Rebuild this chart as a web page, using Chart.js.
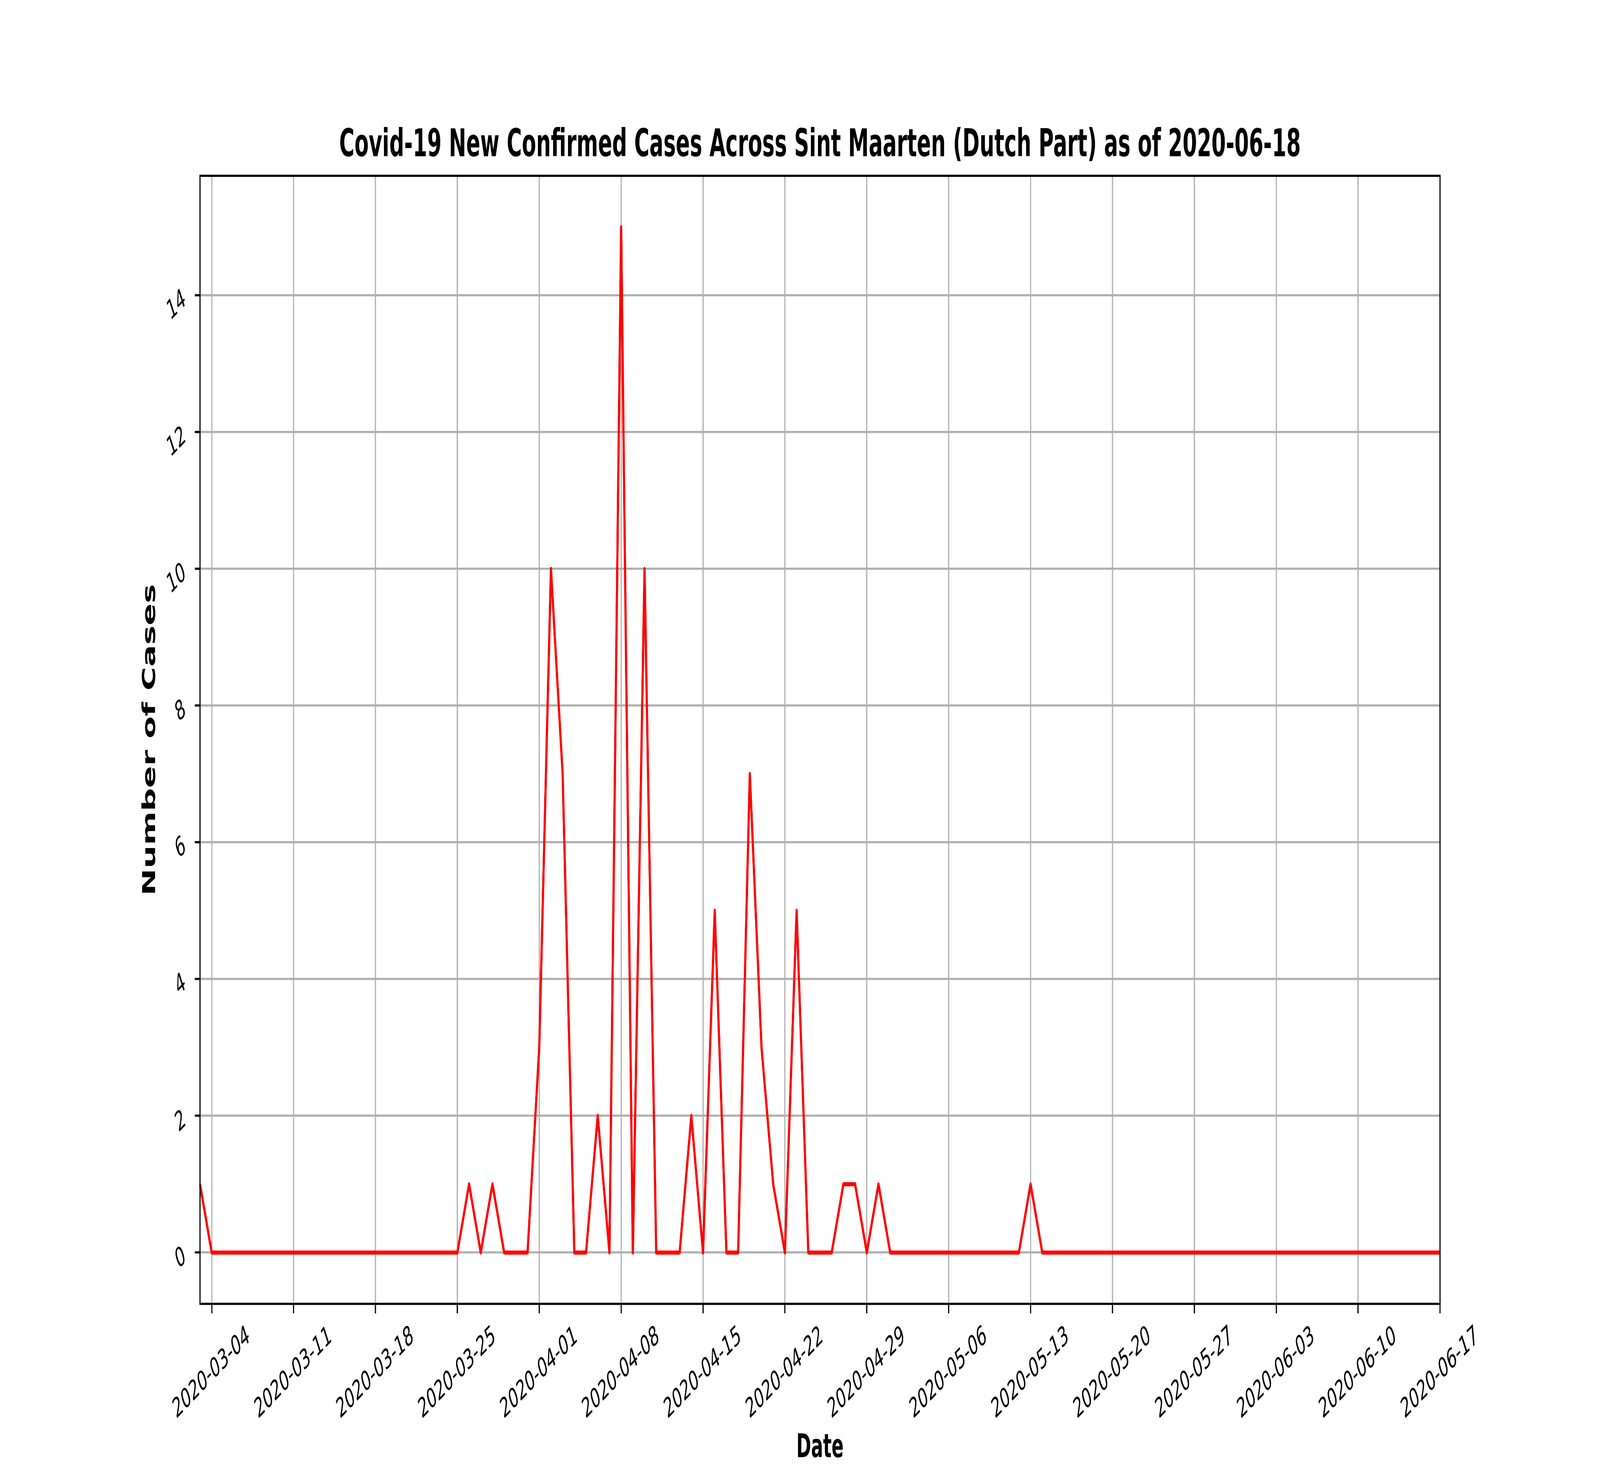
<!DOCTYPE html>
<html>
<head>
<meta charset="utf-8">
<script src="https://cdn.jsdelivr.net/npm/chart.js@4.4.0/dist/chart.umd.min.js"></script>
<style>
  html, body { margin: 0; padding: 0; background: #fff; overflow: hidden; }
  canvas { display: block; }
</style>
</head>
<body>
<canvas id="chart" width="7500" height="3750"></canvas>
<script>
// daily new confirmed cases, 2020-03-03 .. 2020-06-17
const startDate = '2020-03-03';
const newCases = [
  1, 0, 0, 0, 0, 0, 0,        // 03-03 .. 03-09
  0, 0, 0, 0, 0, 0, 0,        // 03-10 .. 03-16
  0, 0, 0, 0, 0, 0, 0,        // 03-17 .. 03-23
  0, 0, 1, 0, 1, 0, 0,        // 03-24 .. 03-30
  0, 3, 10, 7, 0, 0, 2,       // 03-31 .. 04-06
  0, 15, 0, 10, 0, 0, 0,      // 04-07 .. 04-13
  2, 0, 5, 0, 0, 7, 3,        // 04-14 .. 04-20
  1, 0, 5, 0, 0, 0, 1,        // 04-21 .. 04-27
  1, 0, 1, 0, 0, 0, 0,        // 04-28 .. 05-04
  0, 0, 0, 0, 0, 0, 0,        // 05-05 .. 05-11
  0, 1, 0, 0, 0, 0, 0,        // 05-12 .. 05-18
  0, 0, 0, 0, 0, 0, 0,        // 05-19 .. 05-25
  0, 0, 0, 0, 0, 0, 0,        // 05-26 .. 06-01
  0, 0, 0, 0, 0, 0, 0,        // 06-02 .. 06-08
  0, 0, 0, 0, 0, 0, 0,        // 06-09 .. 06-15
  0, 0                        // 06-16 .. 06-17
];
const xTickLabels = [
  '2020-03-04', '2020-03-11', '2020-03-18', '2020-03-25', '2020-04-01',
  '2020-04-08', '2020-04-15', '2020-04-22', '2020-04-29', '2020-05-06',
  '2020-05-13', '2020-05-20', '2020-05-27', '2020-06-03', '2020-06-10',
  '2020-06-17'
];
const yTicks = [0, 2, 4, 6, 8, 10, 12, 14];

const dates = [];
for (let i = 0; i < newCases.length; i++) {
  const d = new Date(Date.parse(startDate + 'T00:00:00Z') + i * 86400000);
  dates.push(d.toISOString().slice(0, 10));
}

const PT = 500 / 72;           // figure was saved at 500 dpi
const FONT = 'DejaVu Sans';

// axes box (matplotlib default subplot params)
const W = 7500, H = 3750;
const AX_LEFT = 0.125 * W, AX_RIGHT = 0.9 * W;
const AX_TOP = 0.12 * H, AX_BOTTOM = 0.89 * H;

// the drawing is 7500x3750; show it over the whole window
const canvasEl = document.getElementById('chart');
canvasEl.style.width = (window.innerWidth || W) + 'px';
canvasEl.style.height = (window.innerHeight || H) + 'px';

Chart.defaults.color = '#000';
Chart.defaults.font.family = FONT;

const framePlugin = {
  id: 'frame',
  afterDatasetsDraw(chart) {
    const { ctx, chartArea: a } = chart;
    ctx.save();
    ctx.strokeStyle = '#000';
    ctx.lineWidth = 0.8 * PT;
    ctx.strokeRect(a.left, a.top, a.right - a.left, a.bottom - a.top);
    ctx.restore();
  }
};

new Chart(canvasEl.getContext('2d'), {
  type: 'line',
  data: {
    labels: dates,
    datasets: [{
      data: newCases,
      borderColor: '#ff0000',
      borderWidth: 1.5 * PT,
      borderJoinStyle: 'round',
      pointRadius: 0,
      tension: 0,
      fill: false
    }]
  },
  options: {
    responsive: false,
    animation: false,
    devicePixelRatio: 1,
    layout: { padding: { left: 0, right: W - AX_RIGHT, top: 0, bottom: 0 } },
    plugins: {
      legend: { display: false },
      tooltip: { enabled: false },
      title: {
        display: true,
        fullSize: false,   // centre it over the axes, like matplotlib
        text: 'Covid-19 New Confirmed Cases Across Sint Maarten (Dutch Part) as of 2020-06-18',
        font: { family: FONT, size: 14 * PT, weight: 'bold', lineHeight: 1 },
        color: '#000',
        padding: { top: 326, bottom: AX_TOP - 326 - 14 * PT }
      }
    },
    scales: {
      x: {
        type: 'category',
        offset: false,
        afterBuildTicks(scale) {
          scale.ticks = scale.ticks.filter(t => xTickLabels.includes(dates[t.value]));
        },
        afterFit(scale) { scale.height = H - AX_BOTTOM; },
        ticks: {
          autoSkip: false,
          minRotation: 30,
          maxRotation: 30,
          padding: 17,
          labelOffset: 174,
          font: { family: FONT, size: 10 * PT },
          callback(value) { return dates[value]; }
        },
        grid: {
          color: '#b0b0b0',
          lineWidth: 0.8 * PT,
          tickColor: '#000',
          tickWidth: 0.8 * PT,
          tickLength: 3.5 * PT
        },
        border: { display: false },
        title: {
          display: true,
          text: 'Date',
          font: { family: FONT, size: 12 * PT, weight: 'bold', lineHeight: 1 },
          padding: { top: 0, bottom: 0 }
        }
      },
      y: {
        type: 'linear',
        min: -0.75,
        max: 15.75,
        afterBuildTicks(scale) {
          scale.ticks = yTicks.map(v => ({ value: v }));
        },
        afterFit(scale) { scale.width = AX_LEFT; },
        ticks: {
          minRotation: 30,
          maxRotation: 30,
          padding: 47,
          labelOffset: 5,
          font: { family: FONT, size: 10 * PT }
        },
        grid: {
          color: '#b0b0b0',
          lineWidth: 0.8 * PT,
          tickColor: '#000',
          tickWidth: 0.8 * PT,
          tickLength: 3.5 * PT
        },
        border: { display: false },
        title: {
          display: true,
          text: 'Number of Cases',
          font: { family: FONT, size: 12 * PT, weight: 'bold', lineHeight: 1 },
          padding: { top: 664, bottom: 0 }
        }
      }
    }
  },
  plugins: [framePlugin]
});
</script>
</body>
</html>
